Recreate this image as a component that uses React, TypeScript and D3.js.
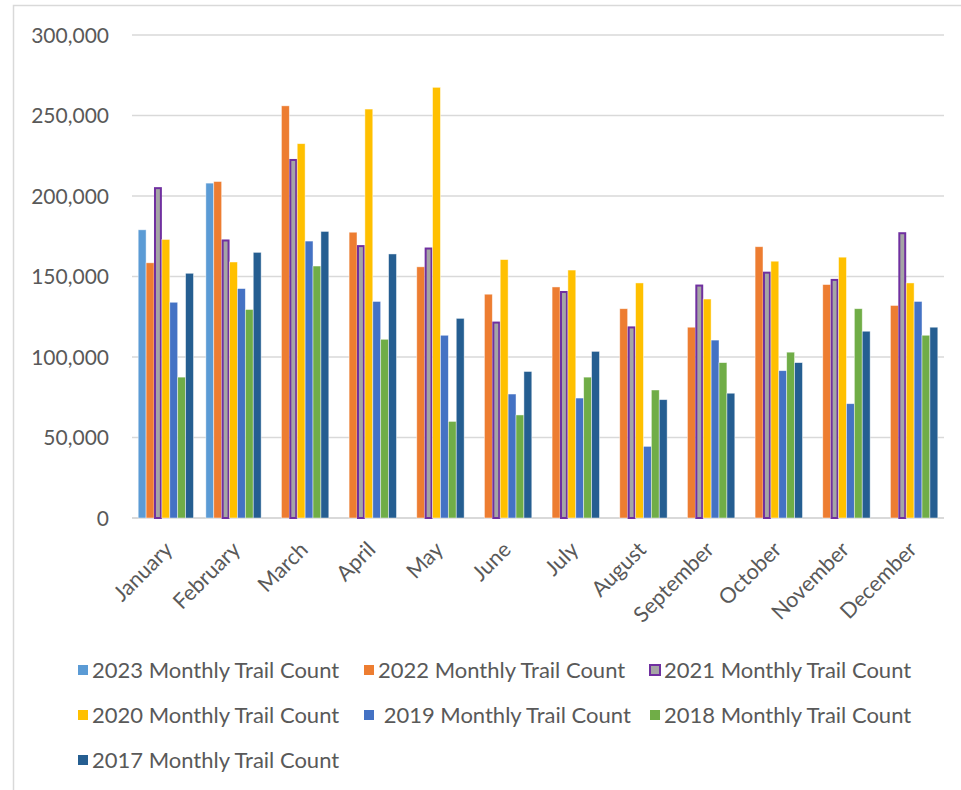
import React from "react";
import * as d3 from "d3";

// chart values
const months = [
  "January", "February", "March", "April", "May", "June",
  "July", "August", "September", "October", "November", "December",
];
const seriesNames = [
  "2023 Monthly Trail Count",
  "2022 Monthly Trail Count",
  "2021 Monthly Trail Count",
  "2020 Monthly Trail Count",
  " 2019 Monthly Trail Count",
  "2018 Monthly Trail Count",
  "2017 Monthly Trail Count",
];
const count2023 = [179000, 208000, null, null, null, null, null, null, null, null, null, null];
const count2022 = [158500, 209000, 256000, 177500, 156000, 139000, 143500, 130000, 118500, 168500, 145000, 132000];
const count2021 = [205500, 173000, 223000, 169500, 168000, 122000, 141000, 119000, 145000, 153000, 148500, 177500];
const count2020 = [173000, 159000, 232500, 254000, 267500, 160500, 154000, 146000, 136000, 159500, 162000, 146000];
const count2019 = [134000, 142500, 172000, 134500, 113500, 77000, 74500, 44500, 110500, 91500, 71000, 134500];
const count2018 = [87500, 129500, 156500, 111000, 60000, 64000, 87500, 79500, 96500, 103000, 130000, 113500];
const count2017 = [152000, 165000, 178000, 164000, 124000, 91000, 103500, 73500, 77500, 96500, 116000, 118500];
const yTicks = [0, 50000, 100000, 150000, 200000, 250000, 300000];

const seriesValues = [count2023, count2022, count2021, count2020, count2019, count2018, count2017];
const colors = ["#5B9BD5", "#ED7D31", "#A5A5A5", "#FFC000", "#4472C4", "#70AD47", "#255E91"];

const FONT = "Lato, 'Open Sans', sans-serif";
const TEXT = "#595959";
const GRID = "#D9D9D9";

const App = () => {
  const left = 132, right = 944, top = 35, bottom = 518;

  const x0 = d3.scaleBand<string>().domain(months).range([left, right])
    .paddingInner(0.183).paddingOuter(0.0915);
  const x1 = d3.scaleBand<number>().domain(d3.range(seriesNames.length))
    .range([0, x0.bandwidth()]);
  const y = d3.scaleLinear().domain([0, 300000]).range([bottom, top]);
  const fmt = d3.format(",");

  return (
    <svg width={961} height={790} style={{ position: "absolute", left: 0, top: 0, background: "#fff" }}
      fontFamily={FONT}>
      <rect x={13.5} y={5.5} width={960} height={800} fill="none" stroke={GRID} strokeWidth={1.5} />

      {yTicks.map(t => (
        <g key={t}>
          <line x1={left} x2={right} y1={y(t)} y2={y(t)} stroke={GRID} strokeWidth={t === 0 ? 2 : 1.5} />
          <text x={109} y={y(t)} dy="0.36em" textAnchor="end" fontSize={21} fill={TEXT}>{fmt(t)}</text>
        </g>
      ))}

      {months.map((m, i) => (
        <g key={m} transform={`translate(${x0(m)},0)`}>
          {seriesValues.map((vals, s) => {
            const v = vals[i];
            if (v == null) return null;
            const is2021 = s === 2;
            return (
              <rect key={s}
                x={x1(s)! + (is2021 ? 1 : 0)}
                y={y(v) + (is2021 ? 1 : 0)}
                width={x1.bandwidth() - (is2021 ? 2 : 0)}
                height={bottom - y(v) - (is2021 ? 1 : 0)}
                fill={colors[s]}
                stroke={is2021 ? "#7030A0" : "#ffffff"}
                strokeOpacity={is2021 ? 1 : 0.6}
                strokeWidth={is2021 ? 2 : 0.75} />
            );
          })}
        </g>
      ))}

      {months.map(m => {
        const cx = x0(m)! + x0.bandwidth() / 2;
        return (
          <text key={m} transform={`translate(${cx + 8},551) rotate(-45)`} textAnchor="end"
            fontSize={21.5} fill={TEXT}>{m}</text>
        );
      })}

      {seriesNames.map((name, s) => {
        const col = s % 3, row = Math.floor(s / 3);
        const lx = 78 + col * 286, ly = 670 + row * 45;
        const is2021 = s === 2;
        return (
          <g key={name} transform={`translate(${lx},${ly})`}>
            <rect x={0} y={-5} width={10} height={10} fill={colors[s]}
              stroke={is2021 ? "#7030A0" : "none"} strokeWidth={is2021 ? 2 : 0} />
            <text x={14} y={0} dy="0.36em" fontSize={22} fill={TEXT} style={{ whiteSpace: "pre" }}>{name}</text>
          </g>
        );
      })}
    </svg>
  );
};

export default App;
